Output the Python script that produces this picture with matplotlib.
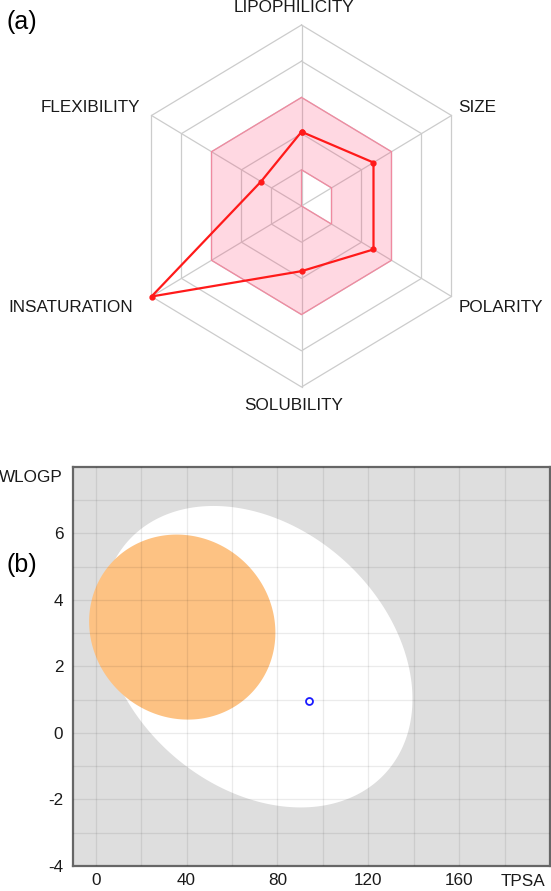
import numpy as np
import matplotlib
matplotlib.use('Agg')
import matplotlib.pyplot as plt
from matplotlib.path import Path
from matplotlib.patches import PathPatch
import matplotlib.transforms as mtransforms

plt.rcParams['font.family'] = ['Liberation Sans', 'DejaVu Sans']
plt.rcParams['font.size'] = 12
plt.rcParams['axes.unicode_minus'] = False

# (a) bioavailability radar, values as fraction of the outer ring
radar_labels = ['LIPOPHILICITY', 'SIZE', 'POLARITY', 'SOLUBILITY', 'INSATURATION', 'FLEXIBILITY']
radar_values = [0.41, 0.48, 0.48, 0.36, 1.0, 0.27]
optimal_low = [0.2, 0.2, 0.2, 0.0, 0.0, 0.0]
optimal_high = [0.6, 0.6, 0.6, 0.6, 0.6, 0.6]
ring_levels = [0.2, 0.4, 0.6, 0.8, 1.0]

# (b) BOILED-Egg: ellipses given by centre, half extents and phase shift
white_center = (71.05, 2.29)
white_half = (68.4, 4.53)
white_phase = 1.855
yolk_center = (38.1, 3.18)
yolk_half = (41.0, 2.78)
yolk_phase = 1.631
mol_tpsa = [93.8]
mol_wlogp = [0.95]
x_ticks = [0, 40, 80, 120, 160]
y_ticks = [-4, -2, 0, 2, 4, 6]

W, H = 551, 891
fig = plt.figure(figsize=(W / 100, H / 100), dpi=100)

# ---------------- radar ----------------
ax = fig.add_axes([0, 1 - 440 / H, 1, 440 / H])
cx_px, cy_px, rx_px, ry_px = 301.5, 206.0, 173.2, 181.0
ax.set_xlim(-cx_px / rx_px, (W - cx_px) / rx_px)
ax.set_ylim((cy_px - 440) / ry_px, cy_px / ry_px)
ax.axis('off')

ang = np.deg2rad([90, 30, -30, -90, -150, 150])
ux, uy = np.cos(ang), np.sin(ang)

def poly(r):
    r = np.asarray(r, dtype=float)
    return np.column_stack([r * ux, r * uy])

# grid
for lev in ring_levels:
    p = poly([lev] * 6)
    p = np.vstack([p, p[:1]])
    ax.plot(p[:, 0], p[:, 1], color='#cccccc', lw=0.9, zorder=1)
for i in range(6):
    ax.plot([0, ux[i]], [0, uy[i]], color='#cccccc', lw=0.9, zorder=1)

# optimal range (pink band with hole)
outer = poly(optimal_high)
inner = poly(optimal_low)[::-1]
verts = np.vstack([outer, outer[:1], inner, inner[:1]])
codes = ([Path.MOVETO] + [Path.LINETO] * 5 + [Path.CLOSEPOLY]) * 2
ax.add_patch(PathPatch(Path(verts, codes), facecolor='#ff3c6e', alpha=0.2,
                       edgecolor='none', zorder=2))
ax.add_patch(PathPatch(Path(verts, codes), facecolor='none',
                       edgecolor='#f08aa0', lw=0.9, zorder=2))

# molecule
mp = poly(radar_values)
mp = np.vstack([mp, mp[:1]])
ax.plot(mp[:, 0], mp[:, 1], color='#ff1a1a', lw=1.6, marker='o', ms=3.5,
        zorder=3)

# labels
def px(x, y):
    return ((x - cx_px) / rx_px, (cy_px - y) / ry_px)

label_pos = [(294, 8, 'center'), (458.5, 108, 'left'), (458.5, 307, 'left'),
             (294, 406, 'center'), (133, 307, 'right'), (140.5, 108, 'right')]
for lab, (lx, ly, ha) in zip(radar_labels, label_pos):
    x, y = px(lx, ly)
    ax.text(x, y, lab, ha=ha, va='center', fontsize=12.3, color='#1a1a1a')

fig.text(7 / W, 1 - 22 / H, '(a)', ha='left', va='center', fontsize=18)

# ---------------- egg ----------------
bx = fig.add_axes([73 / W, 1 - 866 / H, 477 / W, 399.3 / H])
bx.set_xlim(-10, 200)
bx.set_ylim(-4, 8)
bx.set_facecolor('#dedede')

t = np.linspace(0, 2 * np.pi, 400)
wx = white_center[0] + white_half[0] * np.cos(t)
wy = white_center[1] + white_half[1] * np.cos(t - white_phase)
bx.fill(wx, wy, color='white', lw=0, zorder=1)
yx = yolk_center[0] + yolk_half[0] * np.cos(t)
yy = yolk_center[1] + yolk_half[1] * np.cos(t - yolk_phase)
bx.fill(yx, yy, color='#fdc283', lw=0, zorder=2)

for gx in np.arange(0, 200, 20):
    bx.axvline(gx, color='black', alpha=0.08, lw=0.9, zorder=3)
for gy in np.arange(-3, 8, 1):
    bx.axhline(gy, color='black', alpha=0.08, lw=0.9, zorder=3)

bx.plot(mol_tpsa, mol_wlogp, 'o', ms=5, mfc='white', mec='#1a1aff', mew=1.3,
        zorder=4)

bx.set_xticks(x_ticks)
bx.set_yticks(y_ticks)
bx.tick_params(length=0, labelsize=12.3, colors='#1a1a1a')
bx.tick_params(axis='x', pad=5)
bx.tick_params(axis='y', pad=7)
for s in bx.spines.values():
    s.set_color('#666666')
    s.set_linewidth(1.6)

trans = mtransforms.blended_transform_factory(bx.transData, bx.transAxes)
bx.text(188, -(882 - 866) / 399.3, 'TPSA', transform=trans, ha='center',
        va='center', fontsize=12.3, color='#1a1a1a')
fig.text(63 / W, 1 - 478 / H, 'WLOGP', ha='right', va='center', fontsize=12.3,
         color='#1a1a1a')
fig.text(7 / W, 1 - 565 / H, '(b)', ha='left', va='center', fontsize=18)

fig.savefig('out.png', dpi=100)
